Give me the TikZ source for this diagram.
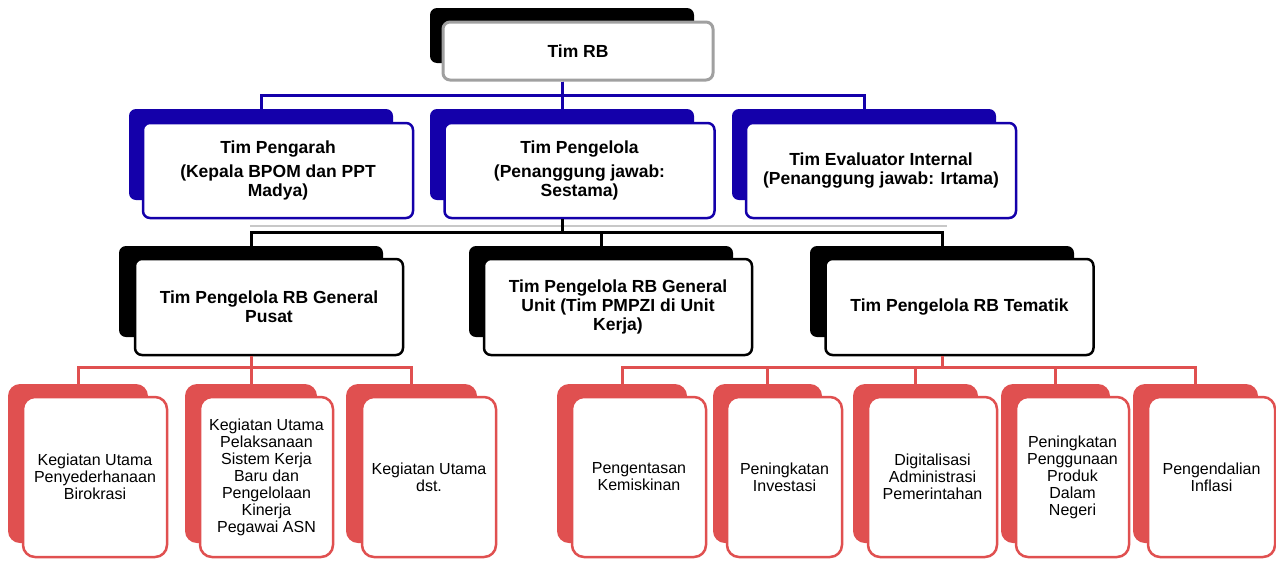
\documentclass[tikz,border=0pt]{standalone}
\usepackage{fontspec}
\setmainfont{Liberation Sans}
\definecolor{rbblue}{RGB}{20,0,170}
\definecolor{rbred}{RGB}{224,80,80}
\definecolor{rbgray}{RGB}{160,160,160}
\definecolor{rbshade}{RGB}{200,200,200}
\begin{document}
\begin{tikzpicture}[x=1pt,y=-1pt,
  backbox/.style={rectangle, rounded corners=7pt, inner sep=0pt, draw=none},
  frontbox/.style={rectangle, rounded corners=7pt, fill=white, line width=2.5pt, inner sep=0pt, align=center},
  boldtxt/.style={font=\fontsize{17.5}{19}\selectfont\bfseries},
  kidtxt/.style={font=\fontsize{16}{17}\selectfont},
  topback/.style={backbox, fill=black, minimum width=264pt, minimum height=55pt},
  topfront/.style={frontbox, boldtxt, draw=rbgray, line width=3pt, minimum width=270pt, minimum height=58pt},
  l2back/.style={backbox, fill=rbblue, minimum width=264pt, minimum height=91pt},
  l2front/.style={frontbox, boldtxt, draw=rbblue, minimum width=270pt, minimum height=95pt},
  l3back/.style={backbox, fill=black, minimum width=264pt, minimum height=91pt},
  l3front/.style={frontbox, boldtxt, draw=black, minimum width=268pt, minimum height=96pt},
  kidback/.style={backbox, rounded corners=12pt, fill=rbred, minimum height=159pt},
  kidfront/.style={frontbox, kidtxt, rounded corners=12pt, draw=rbred, minimum height=160pt},
  bluecon/.style={draw=rbblue, line width=3pt},
  blackcon/.style={draw=black, line width=3pt},
  redcon/.style={draw=rbred, line width=3pt},
  shadecon/.style={draw=rbshade, line width=2pt}
]
\useasboundingbox (0,0) rectangle (1276,560);
\fill[white] (0,0) rectangle (1276,560);

% bus levels
\coordinate (busA) at (0,95);
\coordinate (busS) at (0,226);
\coordinate (busB) at (0,232);
\coordinate (busC) at (0,367);

% shade line
\coordinate (shL) at (250,226);
\coordinate (shR) at (947,226);
\draw[shadecon] (shL) -- (shR);

% level 1
\node[topback] (rbB) at (562,35.5) {};
\node[topfront] (rb) at (578,51) {Tim RB};

% level 2
\node[l2back] (pgB) at (261,154.5) {};
\node[l2front] (pg) at (278,170.5) {Tim Pengarah\\[5pt](Kepala BPOM dan PPT\\Madya)};
\node[l2back] (plB) at (562,154.5) {};
\node[l2front] (pl) at (579.5,170.5) {Tim Pengelola\\[5pt](Penanggung jawab:\\Sestama)};
\node[l2back] (evB) at (864,154.5) {};
\node[l2front] (ev) at (881,170.5) {Tim Evaluator Internal\\(Penanggung jawab: Irtama)};

% level 3
\node[l3back] (gpB) at (251,291.5) {};
\node[l3front] (gp) at (269,307) {Tim Pengelola RB General\\Pusat};
\node[l3back] (guB) at (601,291.5) {};
\node[l3front] (gu) at (618,307) {Tim Pengelola RB General\\Unit (Tim PMPZI di Unit\\Kerja)};
\node[l3back] (tmB) at (942,291.5) {};
\node[l3front] (tm) at (959.5,307) {Tim Pengelola RB Tematik};

% level 4 - Pusat
\node[kidback, minimum width=140pt] (p1B) at (78,463.5) {};
\node[kidfront, minimum width=144pt] (p1) at (95,477) {Kegiatan Utama\\Penyederhanaan\\Birokrasi};
\node[kidback, minimum width=132pt] (p2B) at (251,463.5) {};
\node[kidfront, minimum width=133pt] (p2) at (266.5,477) {Kegiatan Utama\\Pelaksanaan\\Sistem Kerja\\Baru dan\\Pengelolaan\\Kinerja\\Pegawai ASN};
\node[kidback, minimum width=131pt] (p3B) at (411.5,463.5) {};
\node[kidfront, minimum width=134pt] (p3) at (429,477) {Kegiatan Utama\\dst.};

% level 4 - Tematik
\node[kidback, minimum width=130pt] (t1B) at (622,463.5) {};
\node[kidfront, minimum width=134pt] (t1) at (639,477) {Pengentasan\\Kemiskinan};
\node[kidback, minimum width=109pt] (t2B) at (767.5,463.5) {};
\node[kidfront, minimum width=115pt] (t2) at (784.5,477) {Peningkatan\\Investasi};
\node[kidback, minimum width=125pt] (t3B) at (915.5,463.5) {};
\node[kidfront, minimum width=129pt] (t3) at (932.5,477) {Digitalisasi\\Administrasi\\Pemerintahan};
\node[kidback, minimum width=109pt] (t4B) at (1055.5,463.5) {};
\node[kidfront, minimum width=113pt] (t4) at (1072.5,477) {Peningkatan\\Penggunaan\\Produk\\Dalam\\Negeri};
\node[kidback, minimum width=125pt] (t5B) at (1195.5,463.5) {};
\node[kidfront, minimum width=127pt] (t5) at (1211.5,477) {Pengendalian\\Inflasi};

% connectors level 1 -> 2
\foreach \c in {pgB,plB,evB}
  \draw[bluecon] (rbB.south |- rb.south) -- (rbB.south |- busA) -| (\c.north);
% level 2 -> 3
\foreach \c in {gpB,guB,tmB}
  \draw[blackcon] (plB.south |- pl.south) -- (plB.south |- busB) -| (\c.north);
% level 3 -> 4
\foreach \c in {p1B,p2B,p3B}
  \draw[redcon] (gpB.south |- gp.south) -- (gpB.south |- busC) -| (\c.north);
\foreach \c in {t1B,t2B,t3B,t4B,t5B}
  \draw[redcon] (tmB.south |- tm.south) -- (tmB.south |- busC) -| (\c.north);
\end{tikzpicture}
\end{document}
